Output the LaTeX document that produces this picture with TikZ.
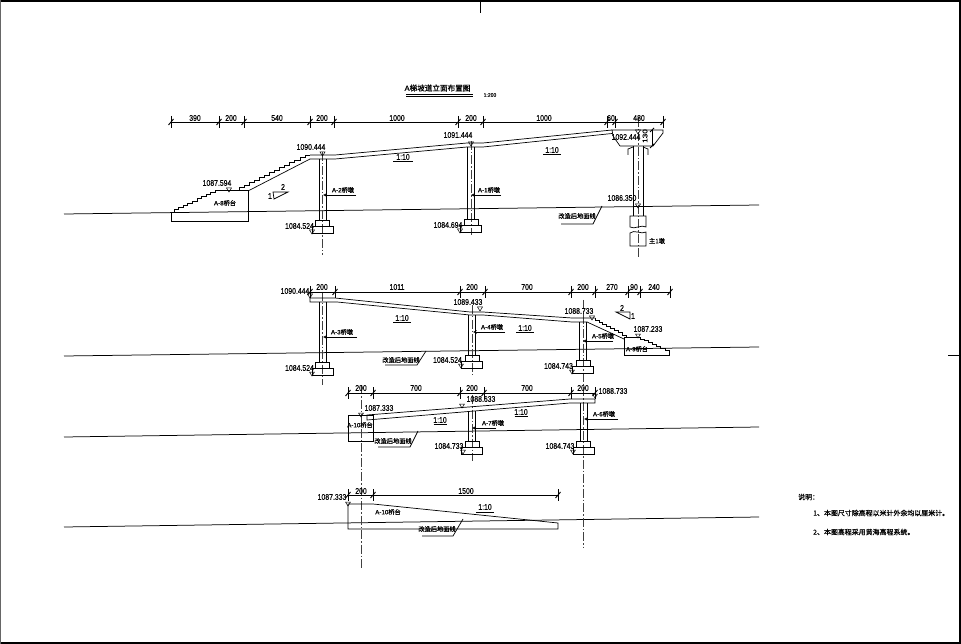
\documentclass[tikz,border=0pt]{standalone}
\usepackage{fontspec}
\setmainfont[FakeBold=.25]{Liberation Sans}
\newfontfamily\cjk[FakeBold=.7]{Noto Sans CJK SC}
\tikzset{
    lab/.style={inner sep=0pt, xscale=.84, font=\fontsize{8.2}{9}\selectfont},
    cjklab/.style={inner sep=0pt, font=\fontsize{6.2}{7}\selectfont},
    note/.style={inner sep=0pt, anchor=west, font=\cjk\fontsize{6.95}{8}\selectfont},
    part/.style={line width=.7pt},
    ground/.style={line width=.75pt},
    centerline/.style={line width=.6pt, black!75, dash pattern=on 9pt off 2pt on 1.5pt off 2pt},
}
% dimension line ticks
\newcommand{\dimtick}[2]{
    \draw[part] (#1,#2-6) -- (#1,#2+6);
    \draw[line width=.9pt] (#1-2.5,#2+3) -- (#1+2.5,#2-3);
}
% elevation mark, tip at the given point
\newcommand{\elevmark}[2]{
    \draw[line width=.5pt] (#1-2.5,#2-4) -- (#1+2.5,#2-4) -- (#1,#2) -- cycle;
}
% column and two step footing: centre, top, bottom of column
\newcommand{\piercol}[3]{
    \draw[part] (#1-3.5,#2) -- (#1-3.5,#3);
    \draw[part] (#1+3.5,#2) -- (#1+3.5,#3);
    \draw[part] (#1-7,#3) rectangle (#1+7,#3+6.5);
    \draw[part] (#1-10.5,#3+6.5) rectangle (#1+10.5,#3+13);
}
% name, text centre, arrow tip, line end, y, text
\newcommand{\pierlabel}[6]{
    \coordinate (#1tip) at (#3,#5);
    \coordinate (#1end) at (#4,#5);
    \draw (#2,#5-5) node[cjklab] (#1) {#6};
    \draw[part,->,>=stealth] (#1end) -- (#1tip);
}
% name, text centre, y of text, underline from/to, y, slash end
\newcommand{\groundlabel}[8]{
    \draw (#2,#3) node[cjklab] (#1) {\cjk 改造后地面线};
    \coordinate (#1a) at (#4,#6);
    \coordinate (#1b) at (#5,#6);
    \coordinate (#1c) at (#7,#8);
    \draw[part] (#1a) -- (#1b) -- (#1c);
}
% slope text and its underline
\newcommand{\slopelabel}[5]{
    \draw (#2,#3) node[lab] (#1) {1:10};
    \coordinate (#1a) at (#2-#4,#3+#5);
    \coordinate (#1b) at (#2+#4,#3+#5);
    \draw[line width=.9pt] (#1a) -- (#1b);
}
% step line: from, to, number of steps
\newcommand{\stairline}[5]{
    \draw[part] (#1,#2) foreach \s in {1,...,#5} { -- ++(0,{(#4-#2)/#5}) -- ++({(#3-#1)/#5},0) };
}
\begin{document}
\begin{tikzpicture}[x=1pt,y=-1pt]
    \useasboundingbox (0,0) rectangle (961,644);

    % sheet border
    \draw[line width=2.2pt] (0,1) -- (961,1);
    \draw[line width=2.2pt] (0,643) -- (961,643);
    \draw[line width=1pt, black!60] (.5,0) -- (.5,644);
    \draw[line width=1.2pt] (960,0) -- (960,644);
    \draw[line width=.8pt] (480,0) -- (480,13);
    \draw[line width=.8pt] (948,355) -- (960,355);

    % title
    \draw (437.5,88) node[inner sep=0pt, font=\fontsize{7.6}{8}\selectfont] (title) {A{\cjk 梯坡道立面布置图}};
    \draw (490,95) node[inner sep=0pt, font=\fontsize{5}{6}\selectfont] (titlescale) {1:200};
    \coordinate (titlea) at (406,94);
    \coordinate (titleb) at (473,94);
    \coordinate (titlec) at (406,96);
    \coordinate (titled) at (473,96);
    \draw[line width=.8pt] (titlea) -- (titleb);
    \draw[line width=.5pt] (titlec) -- (titled);

    % ground lines
    \draw[ground] (64,214) -- (759,205);
    \draw[ground] (64,356) -- (759,347);
    \draw[ground] (64,437) -- (759,427);
    \draw[ground] (64,527) -- (759,517);

    % centre lines
    \draw[centerline] (322.5,152) -- (322.5,255);
    \draw[centerline] (471,141) -- (471,235);
    \draw[centerline] (638,118) -- (638,257);
    \draw[centerline] (322.5,292) -- (322.5,385);
    \draw[centerline] (472,305) -- (472,375);
    \draw[centerline] (583,300) -- (583,547);
    \draw[centerline] (472,395) -- (472,461);
    \draw[centerline] (361,385) -- (361,568);

    % first elevation
    \draw[part] (171,122) -- (663,122);
    \foreach \x in {171,219,244,310,334,458,483,607,615,663} {\dimtick{\x}{122}}
    \foreach \x/\t in {195/390,231/200,277/540,322/200,397/1000,471/200,544/1000,611/60,639/480}
        \draw (\x,118) node[lab] (dima\x) {\t};

    \draw[part] (171,212) -- (171,221) -- (248,221) -- (248,190) -- (220,190);
    \stairline{174}{212}{220}{190}{10}
    \stairline{239}{190}{310}{155}{14}
    \draw[part] (248,191) -- (310,159);
    \draw[part] (310,155) -- (335,155) -- (467,143) -- (483,143) -- (612,130);
    \draw[part] (310,159) -- (335,159) -- (467,147) -- (483,147) -- (612,133.5);
    \draw[part] (612,130) -- (663,130) -- (663,133) -- (653,146) -- (620,146) -- (613,136) -- cycle;
    \draw[part] (628,155) -- (628,149) -- (633,147);
    \draw[part] (648,155) -- (648,149) -- (643,147);

    \piercol{322.5}{159}{220}
    \piercol{471}{147}{219}
    \draw[part] (633.5,146) -- (633.5,216);
    \draw[part] (643,146) -- (643,216);
    \draw[part] (630,227) -- (630,216) -- (646,216) -- (646,227) .. controls (642,224) and (634,230) .. cycle;
    \draw[part] (630,246) -- (630,233) .. controls (634,229) and (642,235) .. (646,232) -- (646,246) -- cycle;

    \draw[line width=.5pt] (652,130) -- (652,146);
    \draw[line width=.8pt] (650,132) -- (654,128);
    \draw[line width=.8pt] (650,148) -- (654,144);

    \draw (217,183) node[lab] (el1a) {1087.594};
    \draw (311,147) node[lab] (el1b) {1090.444};
    \draw (458,135) node[lab] (el1c) {1091.444};
    \draw (626,137) node[lab] (el1d) {1092.444};
    \draw (622,198) node[lab] (el1e) {1086.350};
    \draw (299.5,226) node[lab] (el1f) {1084.524};
    \draw (448,225) node[lab] (el1g) {1084.694};
    \elevmark{229}{192}
    \elevmark{322.5}{156}
    \elevmark{471}{146}
    \elevmark{638}{134}
    \elevmark{638}{208}
    \elevmark{312}{234}
    \elevmark{460}{233}
    \draw (645,136) node[lab, rotate=90] (dim130) {130};

    \draw (225,203) node[cjklab] (a8) {A-8{\cjk 桥台}};
    \pierlabel{a2}{343}{323}{356}{195}{A-2{\cjk 桥墩}}
    \pierlabel{a1}{489}{471}{501}{195}{A-1{\cjk 桥墩}}
    \draw (657,241) node[cjklab] (zhu1) {\cjk 主1墩};
    \slopelabel{sl1}{403}{157}{10}{4.5}
    \slopelabel{sl2}{552}{150}{9}{4.5}
    \groundlabel{gl1}{577}{216}{561}{593}{224}{602}{206}

    \draw[part] (273,192) -- (288,192) -- (274,199) -- cycle;
    \draw (283,187) node[lab] (s2a) {2};
    \draw (270,196) node[lab] (s1a) {1};

    % second elevation
    \draw[part] (310,292) -- (670,292);
    \foreach \x in {310,335,460,485,571,595,628,640,670} {\dimtick{\x}{292}}
    \foreach \x/\t in {322/200,397/1011,472/200,527/700,583/200,612/270,634/90,654/240}
        \draw (\x,287) node[lab] (dimb\x) {\t};

    \draw[part] (310,298) -- (335,298) -- (470,312) -- (483,312) -- (572,318) -- (595,318);
    \draw[part] (310,298) -- (310,302) -- (337,302) -- (470,315) -- (483,315) -- (572,322) -- (587,322);
    \stairline{595}{318}{630}{337}{9}
    \draw[part] (587,322) -- (624,339);
    \draw[part] (624,337) -- (640,337);
    \draw[part] (624,337) -- (624,355) -- (669,355) -- (669,350);
    \stairline{640}{337}{669}{350}{7}

    \piercol{322.5}{302}{362}
    \piercol{472}{315}{355}
    \piercol{583}{322}{360}

    \draw (295,291) node[lab] (el2a) {1090.444};
    \draw (468,302) node[lab] (el2b) {1089.433};
    \draw (579,311) node[lab] (el2c) {1088.733};
    \draw (648,329) node[lab] (el2d) {1087.233};
    \draw (299.5,368) node[lab] (el2e) {1084.524};
    \draw (447.5,360) node[lab] (el2f) {1084.524};
    \draw (558.5,366) node[lab] (el2g) {1084.743};
    \elevmark{310}{298}
    \elevmark{480}{311}
    \elevmark{592}{320}
    \elevmark{638}{338}
    \elevmark{312}{376}
    \elevmark{461}{368}
    \elevmark{572}{374}

    \pierlabel{a3}{342}{323}{357}{337}{A-3{\cjk 桥墩}}
    \pierlabel{a4}{492}{473}{505}{332}{A-4{\cjk 桥墩}}
    \pierlabel{a5}{603}{583}{613}{341}{A-5{\cjk 桥墩}}
    \draw (637,349) node[cjklab] (a9) {A-9{\cjk 桥台}};
    \slopelabel{sl3}{402}{318}{9}{4.5}
    \slopelabel{sl4}{525}{328}{9}{4.5}
    \groundlabel{gl2}{401}{360}{385}{417}{365}{426}{351}

    \draw[part] (616,312) -- (630,312) -- (630,319) -- cycle;
    \draw (622,308) node[lab] (s2b) {2};
    \draw (633,316) node[lab] (s1b) {1};

    % third elevation
    \draw[part] (348,393) -- (595,393);
    \foreach \x in {348,373,460,484,571,595} {\dimtick{\x}{393}}
    \foreach \x/\t in {361/200,416/700,472/200,527/700,583/200}
        \draw (\x,388) node[lab] (dimc\x) {\t};

    \draw[part] (348,415) rectangle (373,441);
    \draw[part] (367,415) -- (570,399) -- (595,399) -- (595,403) -- (570,403) -- (367,420) -- cycle;

    \piercol{472}{411}{441}
    \piercol{583.5}{403}{441}

    \draw (379,408) node[lab] (el3a) {1087.333};
    \draw (481,399) node[lab] (el3b) {1088.633};
    \draw (613,391) node[lab] (el3c) {1088.733};
    \draw (449,446) node[lab] (el3d) {1084.733};
    \draw (560,446) node[lab] (el3e) {1084.743};
    \elevmark{361}{417}
    \elevmark{462}{408}
    \elevmark{595}{398}
    \elevmark{463}{454}
    \elevmark{573}{454}

    \draw (360,425) node[cjklab] (a10a) {A-10{\cjk 桥台}};
    \pierlabel{a7}{493}{472}{496}{428}{A-7{\cjk 桥墩}}
    \pierlabel{a6}{604}{584}{618}{419}{A-6{\cjk 桥墩}}
    \slopelabel{sl5}{440}{420}{6.5}{4}
    \slopelabel{sl6}{521}{412}{6.5}{4}
    \groundlabel{gl3}{393}{441}{378}{410}{447}{418}{431}

    % fourth elevation
    \draw[part] (348,495) -- (558,495);
    \foreach \x in {348,373,558} {\dimtick{\x}{495}}
    \foreach \x/\t in {361/200,466/1500}
        \draw (\x,491) node[lab] (dimd\x) {\t};

    \draw[part] (348,504) -- (373,504) -- (558,523) -- (558,529) -- (348,529) -- cycle;

    \draw (332,497) node[lab] (el4a) {1087.333};
    \elevmark{348}{506}
    \draw (388,512) node[cjklab] (a10b) {A-10{\cjk 桥台}};
    \slopelabel{sl7}{485}{507}{9}{5}
    \groundlabel{gl4}{437}{529}{422}{453}{536}{463}{519}

    % notes
    \draw (798,497) node[note] (notehead) {说明：};
    \draw (813,513) node[note] (noteone) {1、本图尺寸除高程以米计外余均以厘米计。};
    \draw (813,532) node[note] (notetwo) {2、本图高程采用黄海高程系统。};
\end{tikzpicture}
\end{document}
